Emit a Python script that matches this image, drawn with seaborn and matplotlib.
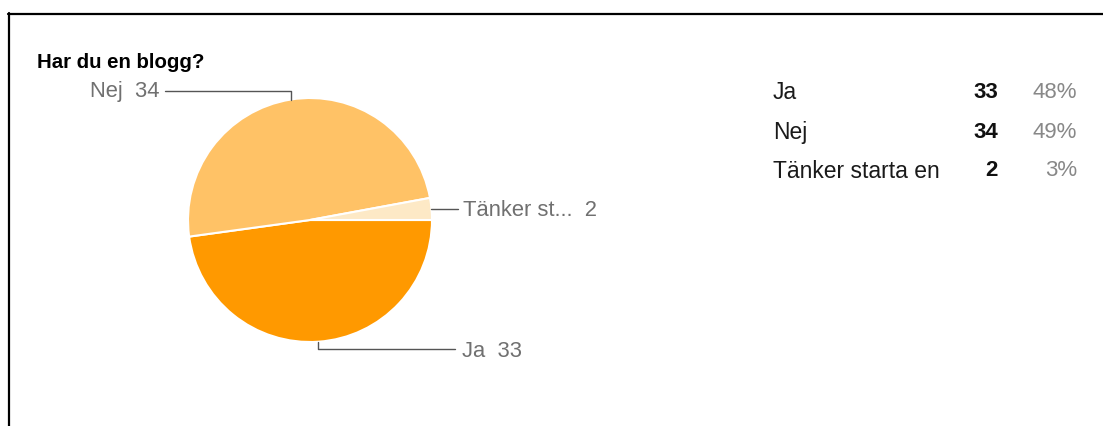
import matplotlib
matplotlib.use("Agg")
import matplotlib.pyplot as plt
from matplotlib.lines import Line2D
import numpy as np
import seaborn as sns

# data
labels = ["Ja", "Nej", "Tänker starta en"]
short_labels = ["Ja", "Nej", "Tänker st..."]
counts = [33, 34, 2]
percents = ["48%", "49%", "3%"]
colors = ["#ff9900", "#ffc266", "#fde9c6"]
title = "Har du en blogg?"

sns.set_theme(style="white")
plt.rcParams['font.family'] = ['Liberation Sans', 'DejaVu Sans']

W, H = 1103, 426
fig = plt.figure(figsize=(W / 100, H / 100), dpi=100)
fig.patch.set_facecolor("white")


def fx(px):
    return px / W


def fy(py):
    return 1 - py / H


# pie axes: center (310, 220) px, radius 122 px
cx, cy, r = 310, 220, 122
ax = fig.add_axes([fx(cx - r), fy(cy + r), 2 * r / W, 2 * r / H])
wedges, _ = ax.pie(counts, colors=colors, startangle=0, counterclock=False,
                   wedgeprops=dict(edgecolor="white", linewidth=1.5))
ax.set_xlim(-1, 1)
ax.set_ylim(-1, 1)
ax.set_aspect("equal")
ax.axis("off")

# leader lines and slice labels
line_kw = dict(color="#555555", lw=1.0, clip_on=False)
text_kw = dict(color="#707070", fontsize=15.8, va="center", clip_on=False)


def mid_point(w):
    a = np.deg2rad((w.theta1 + w.theta2) / 2)
    return np.cos(a), np.sin(a)

# Ja: bottom
x0, y0 = mid_point(wedges[0])
ax.plot([x0, x0, 1.19], [y0, -1.055, -1.055], **line_kw)
ax.text(1.245, -1.075, f"{short_labels[0]}  {counts[0]}", ha="left", **text_kw)

# Nej: top left
x0, y0 = mid_point(wedges[1])
ax.plot([x0, x0, -1.19], [y0, 1.06, 1.06], **line_kw)
ax.text(-1.23, 1.055, f"{short_labels[1]}  {counts[1]}", ha="right", **text_kw)

# Tänker: right
x0, y0 = mid_point(wedges[2])
ax.plot([x0, 1.21], [y0, y0], **line_kw)
ax.text(1.25, y0 - 0.01, f"{short_labels[2]}  {counts[2]}", ha="left", **text_kw)

# title
fig.text(fx(37), fy(62), title, fontsize=14.7, fontweight="bold",
         color="#000000", ha="left", va="center")

# table on the right
row_y = [93, 132, 171]
for name, n, p, yy in zip(labels, counts, percents, row_y):
    fig.text(fx(773), fy(yy), name, fontsize=16.5, color="#1a1a1a",
             ha="left", va="center")
    fig.text(fx(998), fy(yy), str(n), fontsize=16, fontweight="bold",
             color="#111111", ha="right", va="center")
    fig.text(fx(1077), fy(yy), p, fontsize=16, color="#888888",
             ha="right", va="center")

# frame lines (top and left)
fig.add_artist(Line2D([fx(8), 1], [fy(14), fy(14)], color="black", lw=1.6))
fig.add_artist(Line2D([fx(9), fx(9)], [fy(13), 0], color="black", lw=1.6))

fig.savefig("out.png", dpi=100, facecolor="white")
